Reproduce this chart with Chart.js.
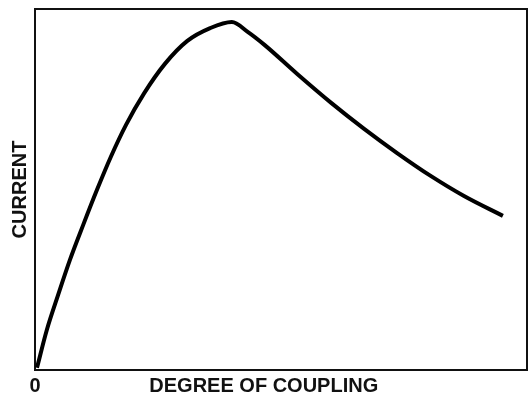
<!DOCTYPE html>
<html>
<head>
<meta charset="utf-8">
<script src="https://cdn.jsdelivr.net/npm/chart.js@4.4.1/dist/chart.umd.min.js"></script>
<style>
    html, body { margin: 0; padding: 0; background: #fff; }
    #chart_box { width: 528px; height: 398px; }
</style>
</head>
<body>
<div id="chart_box"><canvas id="chart_coupling" width="528" height="398"></canvas></div>
<script>
// resonance curve: current vs degree of coupling (arbitrary units 0..100)
var couplingValues = [0.4, 2.4, 4.7, 7.1, 9.8, 12.6, 15.4, 18.5, 22.2, 26.4, 30.9, 35.6, 40.0, 43.3, 46.7, 53.3, 60.2, 66.9, 73.6, 80.5, 87.2, 95.1];
var currentValues  = [0.6, 11.1, 20.8, 30.5, 40.2, 49.9, 59.0, 67.9, 76.7, 84.8, 91.1, 94.7, 96.4, 93.6, 90.0, 82.0, 74.0, 66.8, 60.1, 53.7, 48.2, 42.7];

var xTickValues = [0, 46.5];
var xTickLabels = ["0", "DEGREE OF COUPLING"];
var yTitle = "CURRENT";

var labelFont = {family: "'Liberation Sans', Arial, sans-serif", size: 20, weight: "bold"};

var points = [];
for (let i = 0; i < couplingValues.length; i++) {
    points.push({x: couplingValues[i], y: currentValues[i]});
}

var frameBorder = {display: true, color: "#111", width: 2};
var noGrid = {display: false, drawTicks: false};

var chartOptions = {
    responsive: false,
    animation: false,
    layout: {
        padding: {top: 9, right: 1, bottom: -4, left: 0}
    },
    plugins: {
        legend: {display: false},
        tooltip: {enabled: false}
    },
    scales: {
        x: {
            type: "linear",
            min: 0,
            max: 100,
            grid: noGrid,
            border: frameBorder,
            afterBuildTicks: function (scale) {
                scale.ticks = xTickValues.map(function (v) { return {value: v}; });
            },
            ticks: {
                autoSkip: false,
                maxRotation: 0,
                padding: 4,
                color: "#111",
                font: labelFont,
                callback: function (value) {
                    let idx = xTickValues.indexOf(value);
                    return idx >= 0 ? xTickLabels[idx] : "";
                }
            }
        },
        y: {
            type: "linear",
            min: 0,
            max: 100,
            grid: noGrid,
            border: frameBorder,
            ticks: {display: false},
            title: {
                display: true,
                text: yTitle,
                color: "#111",
                font: labelFont,
                padding: {top: 8, bottom: 3}
            }
        },
        x2: {
            type: "linear",
            position: "top",
            grid: noGrid,
            border: frameBorder,
            ticks: {display: false}
        },
        y2: {
            type: "linear",
            position: "right",
            grid: noGrid,
            border: frameBorder,
            ticks: {display: false}
        }
    }
};

var chart = new Chart(document.getElementById("chart_coupling").getContext("2d"), {
    type: "scatter",
    data: {
        datasets: [{
            label: "current",
            data: points,
            showLine: true,
            borderColor: "#000",
            borderWidth: 4,
            pointRadius: 0,
            cubicInterpolationMode: "monotone",
            fill: false
        }]
    },
    options: chartOptions
});
</script>
</body>
</html>
